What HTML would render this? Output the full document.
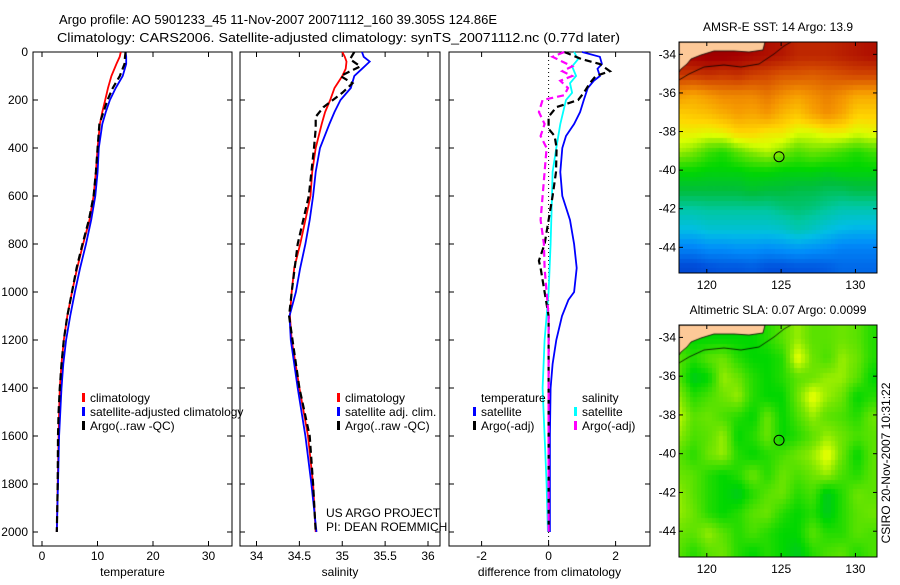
<!DOCTYPE html>
<html><head><meta charset="utf-8"><style>
body{margin:0;background:#fff;}
svg text{font-family:"Liberation Sans",sans-serif;font-size:12px;fill:#000;}
</style></head><body>
<svg id="fig" width="900" height="580" viewBox="0 0 900 580" xmlns="http://www.w3.org/2000/svg">
<rect width="900" height="580" fill="#fff"/>
<text x="59" y="24" style="font-size:13px">Argo profile: AO 5901233_45 11-Nov-2007 20071112_160 39.305S 124.86E</text>
<text x="57" y="42" style="font-size:13px" textLength="563" lengthAdjust="spacingAndGlyphs">Climatology: CARS2006. Satellite-adjusted climatology: synTS_20071112.nc (0.77d later)</text>
<g id="plots"></g>
<foreignObject x="679" y="42" width="198" height="231"><canvas xmlns="http://www.w3.org/1999/xhtml" id="c1" width="198" height="231"></canvas></foreignObject>
<foreignObject x="679" y="325" width="198" height="232"><canvas xmlns="http://www.w3.org/1999/xhtml" id="c2" width="198" height="232"></canvas></foreignObject>
<g id="maps"></g>
<text transform="translate(890,463) rotate(-90)" text-anchor="middle">CSIRO 20-Nov-2007 10:31:22</text>
</svg>
<script>
// ---- profile data ----
const tDepth=[0,20,50,100,150,200,250,300,400,500,600,700,800,900,1000,1100,1200,1300,1400,1500,1600,1800,2000];
const tClim=[14.2,14.0,13.4,12.5,11.9,11.39,10.87,10.44,10.02,9.71,9.29,8.55,7.40,6.35,5.40,4.56,3.93,3.51,3.20,3.09,2.99,2.83,2.67];
const tSat=[15.07,15.17,15.17,14.54,13.28,12.23,11.50,10.87,10.23,10.02,9.60,8.87,7.92,6.87,5.93,5.09,4.35,3.83,3.51,3.30,3.09,2.88,2.67];
const tArgo=[15.07,14.96,14.86,14.02,12.76,11.81,11.08,10.34,10.02,9.71,9.29,8.45,7.29,6.24,5.40,4.56,3.93,3.51,3.20,2.99,2.88,2.83,2.67];
const sDepth=[0,20,40,70,100,150,200,250,300,400,500,600,700,800,900,1000,1100,1200,1400,1600,1800,2000];
const sClim=[35.0,35.03,35.05,35.04,35.0,34.91,34.86,34.80,34.76,34.69,34.65,34.63,34.57,34.51,34.44,34.41,34.39,34.41,34.5,34.6,34.66,34.69];
const sSat=[35.23,35.25,35.32,35.23,35.14,35.10,34.98,34.91,34.85,34.74,34.69,34.66,34.62,34.57,34.51,34.46,34.385,34.40,34.48,34.57,34.64,34.70];
const sArgoDepth=[0,30,60,100,130,170,230,270,320,400,500,600,800,1000,1100,1200,1400,1600,1800,2000];
const sArgo=[35.14,35.09,35.21,34.98,35.12,35.0,34.78,34.69,34.69,34.67,34.64,34.61,34.48,34.41,34.38,34.42,34.5,34.62,34.66,34.69];
const dTDepth=[0,20,50,70,100,120,150,200,250,300,350,400,500,600,700,800,900,1000,1033,1100,1200,1300,1400,1600,2000];
const dTSat=[1.0,1.53,1.59,1.46,1.53,1.35,1.17,1.05,0.94,0.76,0.52,0.41,0.35,0.41,0.64,0.76,0.84,0.76,0.59,0.4,0.23,0.12,0.06,0.04,0.04];
const dTArgoDepth=[0,30,50,80,100,130,170,200,230,270,320,350,400,500,600,700,800,870,900,1000,1100,1600,2000];
const dTArgo=[0.47,0.99,1.53,1.83,1.41,1.23,1.05,0.88,0.23,0.0,0.0,0.18,0.24,0.22,0.12,0.0,-0.12,-0.29,-0.24,-0.12,0.0,0.0,0.0];
const dSDepth=[0,30,60,100,130,170,200,300,400,500,600,800,1000,1200,1400,1600,1800,2000];
const dSSat=[0.76,0.88,0.7,0.82,0.64,0.7,0.52,0.35,0.23,0.12,0.1,0.06,0.0,-0.12,-0.18,-0.12,-0.06,-0.02];
const dSArgoDepth=[0,20,40,60,80,100,120,150,180,200,250,300,350,400,500,600,700,800,900,1000,1100,2000];
const dSArgo=[0.47,0.12,0.41,0.7,0.41,0.7,0.35,0.58,0.47,-0.18,-0.29,-0.12,-0.24,-0.06,-0.12,-0.18,-0.24,-0.14,-0.12,-0.06,0.0,0.0];
const depthTicks=[0,200,400,600,800,1000,1200,1400,1600,1800,2000];
const tTicks=[0,10,20,30];
const sTicks=[34,34.5,35,35.5,36];
const dTicks=[-2,0,2];
// ---- map data (rows lat -34..-45, cols lon 118..131) ----
const mapLats=[-34,-35,-36,-37,-38,-39,-40,-41,-42,-43,-44,-45];
const mapLons=[118,119,120,121,122,123,124,125,126,127,128,129,130,131];
const sstGrid=[
[.95,.95,.96,.96,.95,.94,.93,.92,.90,.90,.90,.91,.92,.93],
[.88,.88,.89,.88,.89,.87,.86,.84,.84,.83,.84,.85,.86,.86],
[.76,.74,.76,.78,.78,.78,.80,.77,.75,.77,.79,.77,.74,.74],
[.69,.70,.71,.73,.75,.74,.76,.72,.70,.74,.77,.74,.69,.69],
[.65,.65,.64,.65,.68,.68,.66,.66,.63,.63,.65,.65,.63,.64],
[.60,.58,.54,.52,.56,.59,.61,.58,.55,.57,.56,.54,.52,.54],
[.50,.50,.49,.49,.49,.50,.50,.49,.49,.49,.48,.49,.49,.49],
[.45,.45,.45,.45,.45,.46,.45,.45,.44,.44,.43,.43,.44,.44],
[.37,.37,.38,.38,.38,.38,.38,.40,.41,.40,.38,.36,.36,.36],
[.30,.30,.32,.32,.32,.32,.32,.33,.36,.34,.31,.29,.28,.28],
[.20,.20,.22,.22,.23,.23,.22,.23,.24,.23,.22,.20,.20,.20],
[.10,.10,.12,.13,.13,.14,.12,.12,.13,.13,.14,.16,.16,.16]];
const slaGrid=[
[.52,.50,.50,.50,.50,.50,.52,.55,.58,.55,.55,.56,.55,.52],
[.55,.52,.55,.56,.52,.50,.50,.52,.62,.56,.54,.58,.56,.52],
[.55,.48,.50,.58,.56,.52,.50,.52,.55,.56,.58,.58,.55,.50],
[.58,.52,.54,.56,.58,.52,.50,.50,.56,.62,.58,.56,.50,.52],
[.60,.55,.56,.54,.52,.50,.56,.50,.54,.58,.55,.54,.52,.56],
[.58,.54,.55,.58,.50,.52,.56,.50,.52,.55,.58,.56,.54,.55],
[.55,.52,.56,.58,.52,.50,.52,.54,.56,.58,.62,.56,.50,.55],
[.56,.55,.52,.50,.52,.56,.52,.56,.54,.56,.58,.54,.52,.55],
[.58,.55,.52,.50,.48,.52,.55,.56,.52,.54,.48,.52,.56,.55],
[.58,.56,.52,.50,.52,.55,.56,.52,.50,.52,.48,.52,.55,.56],
[.56,.55,.58,.55,.52,.54,.52,.50,.50,.55,.52,.52,.55,.54],
[.55,.52,.55,.56,.52,.50,.52,.50,.48,.52,.54,.55,.52,.54]];
const argoLon=124.86, argoLat=-39.305;
const lonTicks=[120,125,130];
const latTicks=[-34,-36,-38,-40,-42,-44];

const NS='http://www.w3.org/2000/svg';
const plots=document.getElementById('plots');
function mk(tag,attrs,parent){const e=document.createElementNS(NS,tag);for(const k in attrs)e.setAttribute(k,attrs[k]);(parent||plots).appendChild(e);return e;}
const yTop=52, yPer=0.24, axBottom=546;
const yS=d=>yTop+d*yPer;
const panels=[
 {x0:33,x1:232,x:v=>42+v*5.55,ticks:tTicks,label:'temperature',name:'temperature-panel'},
 {x0:240,x1:440,x:v=>256.5+(v-34)*85.75,ticks:sTicks,label:'salinity',name:'salinity-panel'},
 {x0:449,x1:650,x:v=>548.6+v*33.5,ticks:dTicks,label:'difference from climatology',name:'difference-panel'}];
panels.forEach((p,i)=>{
  const g=mk('g',{});
  
  
  const r=mk('rect',{x:p.x0,y:yTop,width:p.x1-p.x0,height:axBottom-yTop,fill:'none',stroke:'#000','stroke-width':1},g);
  
  
  depthTicks.forEach(d=>{
    const y=yS(d);
    mk('line',{x1:p.x0,x2:p.x0+5,y1:y,y2:y,stroke:'#000'},g);
    mk('line',{x1:p.x1,x2:p.x1-5,y1:y,y2:y,stroke:'#000'},g);
    if(i===0){const t=mk('text',{x:p.x0-5,y:y+4,'text-anchor':'end'},g);t.textContent=d;
      
      }
  });
  p.ticks.forEach(v=>{
    const x=p.x(v);
    mk('line',{x1:x,x2:x,y1:yTop,y2:yTop+5,stroke:'#000'},g);
    mk('line',{x1:x,x2:x,y1:axBottom,y2:axBottom-5,stroke:'#000'},g);
    const t=mk('text',{x:x,y:560,'text-anchor':'middle'},g);t.textContent=v;
    
    
  });
  const xl=mk('text',{x:(p.x0+p.x1)/2,y:576,'text-anchor':'middle'},g);xl.textContent=p.label;
  
  
});
function line(p,vals,deps,color,dash,name){
  const d=vals.map((v,k)=>(k?'L':'M')+p.x(v).toFixed(1)+','+yS(deps[k]).toFixed(1)).join('');
  const e=mk('path',{d:d,fill:'none',stroke:color,'stroke-width':dash?2.2:1.8});
  if(dash)e.setAttribute('stroke-dasharray','7,4');
  
  
}
const P=panels;
line(P[0],tClim,tDepth,'#f00',false,'temp-climatology-line');
line(P[0],tSat,tDepth,'#00f',false,'temp-satellite-line');
line(P[0],tArgo,tDepth,'#000',true,'temp-argo-line');
line(P[1],sClim,sDepth,'#f00',false,'sal-climatology-line');
line(P[1],sSat,sDepth,'#00f',false,'sal-satellite-line');
line(P[1],sArgo,sArgoDepth,'#000',true,'sal-argo-line');
const z=mk('line',{x1:P[2].x(0),x2:P[2].x(0),y1:yTop,y2:axBottom,stroke:'#000','stroke-dasharray':'1,3'});


line(P[2],dSSat,dSDepth,'#0ff',false,'sal-diff-satellite-line');
line(P[2],dTSat,dTDepth,'#00f',false,'temp-diff-satellite-line');
line(P[2],dTArgo,dTArgoDepth,'#000',true,'temp-diff-argo-line');
line(P[2],dSArgo,dSArgoDepth,'#f0f',true,'sal-diff-argo-line');
function leg(x,y,color,txt){
  const g=mk('g',{});
  
  
  if(color)mk('rect',{x:x-8,y:y-9,width:3,height:9,fill:color},g);
  const t=mk('text',{x:x,y:y},g);t.textContent=txt;
}
leg(90,402,'#f00','climatology');leg(90,416,'#00f','satellite-adjusted climatology');leg(90,430,'#000','Argo(..raw -QC)');
leg(345,402,'#f00','climatology');leg(345,416,'#00f','satellite adj. clim.');leg(345,430,'#000','Argo(..raw -QC)');
leg(481,402,null,'temperature');leg(481,416,'#00f','satellite');leg(481,430,'#000','Argo(-adj)');
leg(582,402,null,'salinity');leg(582,416,'#0ff','satellite');leg(582,430,'#f0f','Argo(-adj)');
const c1=mk('text',{x:326,y:517});c1.textContent='US ARGO PROJECT';


const c2=mk('text',{x:326,y:531});c2.textContent='PI: DEAN ROEMMICH';



// ---- maps ----
const stops=[[0,[0,40,170]],[0.12,[0,80,220]],[0.22,[0,140,250]],[0.3,[0,190,230]],[0.38,[0,200,160]],[0.45,[0,190,60]],[0.5,[0,215,0]],[0.58,[120,230,0]],[0.63,[220,255,0]],[0.68,[255,215,0]],[0.76,[245,150,0]],[0.86,[210,70,0]],[0.95,[165,0,0]],[1,[140,0,0]]];
function cmap(v){v=Math.max(0,Math.min(1,v));for(let i=1;i<stops.length;i++){if(v<=stops[i][0]){const a=stops[i-1],b=stops[i],t=(v-a[0])/(b[0]-a[0]);return 'rgb('+a[1].map((c,k)=>Math.round(c+(b[1][k]-c)*t)).join(',')+')';}}return 'rgb(140,0,0)';}
const lonMin=118.13, lonMax=131.45, latTop=-33.36, latBot=-45.33;
function sample(grid,lon,lat){
  let r=(-34-lat), c=lon-118; r=Math.max(0,Math.min(11,r)); c=Math.max(0,Math.min(13,c));
  const r0=Math.min(10,Math.floor(r)),c0=Math.min(12,Math.floor(c)),fr=r-r0,fc=c-c0;
  const a=grid[r0][c0],b=grid[r0][c0+1],cc=grid[r0+1][c0],d=grid[r0+1][c0+1];
  return a*(1-fr)*(1-fc)+b*(1-fr)*fc+cc*fr*(1-fc)+d*fr*fc;
}
function drawMap(id,grid,h,gain){
  const cv=document.getElementById(id),ctx=cv.getContext('2d');const w=198;
  const st=0.25;
  for(let lat=latTop;lat>latBot-st;lat-=st){for(let lon=lonMin;lon<lonMax;lon+=st){
    const x=(lon-lonMin)/(lonMax-lonMin)*w,y=(latTop-lat)/(latTop-latBot)*h;
    const v=sample(grid,Math.floor(lon/st)*st+st/2,Math.ceil(lat/st)*st-st/2);
    ctx.fillStyle=cmap(0.5+(v-0.5)*gain);
    ctx.fillRect(Math.floor(x),Math.floor(y),Math.ceil(w*st/(lonMax-lonMin))+1,Math.ceil(h*st/(latTop-latBot))+1);
  }}
  ctx.fillStyle='#fdc998';ctx.beginPath();
  ctx.moveTo(0,0);ctx.lineTo(86,0);ctx.lineTo(84,8);ctx.lineTo(70,10);ctx.lineTo(55,9);ctx.lineTo(35,9);ctx.lineTo(22,13);ctx.lineTo(12,17);ctx.lineTo(8,22);ctx.lineTo(2,27);ctx.lineTo(0,30);ctx.closePath();ctx.fill();
  ctx.strokeStyle='#000';ctx.lineWidth=0.8;ctx.stroke();
  ctx.beginPath();ctx.moveTo(0,38);ctx.lineTo(10,32);ctx.lineTo(25,25);ctx.lineTo(45,23);ctx.lineTo(62,25);ctx.lineTo(80,22);ctx.lineTo(95,12);ctx.lineTo(105,4);ctx.lineTo(112,0);ctx.stroke();
}
drawMap('c1',sstGrid,231,1);drawMap('c2',slaGrid,232,1.2);
const maps=document.getElementById('maps');
[[42,273,'AMSR-E SST: 14 Argo: 13.9','sst-map'],[325,557,'Altimetric SLA: 0.07 Argo: 0.0099','sla-map']].forEach(([t,b,title,name])=>{
  const g=mk('g',{},maps);
  
  
  const lx=v=>679+(v-lonMin)/(lonMax-lonMin)*198, ly=v=>t+(latTop-v)/(latTop-latBot)*(b-t);
  mk('rect',{x:679,y:t,width:198,height:b-t,fill:'none',stroke:'#000'},g);
  lonTicks.forEach(v=>{const x=lx(v);mk('line',{x1:x,x2:x,y1:t,y2:t+4,stroke:'#000'},g);mk('line',{x1:x,x2:x,y1:b,y2:b-4,stroke:'#000'},g);
    const e=mk('text',{x:x,y:b+16,'text-anchor':'middle'},g);e.textContent=v;
    
    });
  latTicks.forEach(v=>{const y=ly(v);mk('line',{x1:679,x2:683,y1:y,y2:y,stroke:'#000'},g);mk('line',{x1:877,x2:873,y1:y,y2:y,stroke:'#000'},g);
    const e=mk('text',{x:676,y:y+4,'text-anchor':'end'},g);e.textContent=v;
    
    });
  const ti=mk('text',{x:778,y:t-11,'text-anchor':'middle'},g);ti.textContent=title;
  
  
  const c=mk('circle',{cx:lx(argoLon),cy:ly(argoLat),r:5,fill:'none',stroke:'#000'},g);
  
  
});
</script>
</body></html>
